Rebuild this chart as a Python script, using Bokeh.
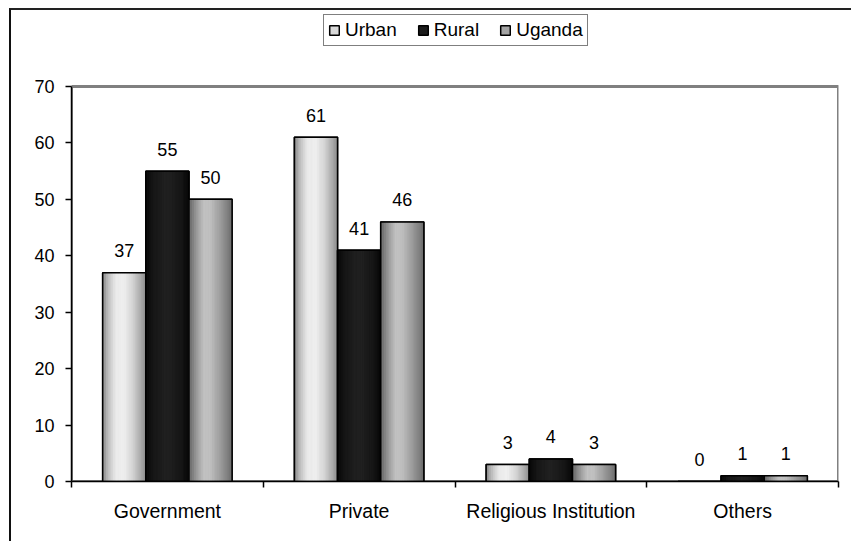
from bokeh.plotting import figure
from bokeh.models import (Range1d, FixedTicker, CustomJSTickFormatter, ColumnDataSource,
                          Legend, LegendItem)
from bokeh.transform import dodge
from bokeh.core.properties import value
from bokeh.embed import file_html
from bokeh.resources import INLINE

# ---- data ----
categories = ["Government", "Private", "Religious Institution", "Others"]
series_names = ["Urban", "Rural", "Uganda"]
urban = [37, 61, 3, 0]
rural = [55, 41, 4, 1]
uganda = [50, 46, 3, 1]
y_ticks = [0, 10, 20, 30, 40, 50, 60, 70]

# ---- style / layout ----
FONT = "Liberation Sans"
W, H = 850, 540
FRAME_TOP, AXIS_TOP, AXIS_BOTTOM = 10, 86, 481   # pixel rows: frame top, value 70, value 0
Y_MAX = y_ticks[-1] * (AXIS_BOTTOM - FRAME_TOP) / (AXIS_BOTTOM - AXIS_TOP)
BW = 0.225          # bar width (fraction of category)
NSTRIP = 24
offsets = {"Urban": -BW, "Rural": 0.0, "Uganda": BW}
# horizontal gradient profiles (position, grey level)
profiles = {
    "Urban": [(0.0, 0x80), (0.12, 0xb8), (0.3, 0xea), (0.5, 0xf0), (0.7, 0xd4), (0.88, 0xac), (1.0, 0x8c)],
    "Rural": [(0.0, 0x08), (0.2, 0x18), (0.5, 0x22), (0.8, 0x18), (1.0, 0x08)],
    "Uganda": [(0.0, 0x62), (0.15, 0x90), (0.35, 0xc2), (0.5, 0xc0), (0.75, 0x9a), (0.9, 0x80), (1.0, 0x6c)],
}
swatch = {"Urban": "#d8d8d8", "Rural": "#1c1c1c", "Uganda": "#a4a4a4"}


def grey_at(prof, t):
    for (t0, g0), (t1, g1) in zip(prof[:-1], prof[1:]):
        if t0 <= t <= t1:
            g = int(round(g0 + (g1 - g0) * (t - t0) / (t1 - t0)))
            return "#%02x%02x%02x" % (g, g, g)
    g = prof[-1][1]
    return "#%02x%02x%02x" % (g, g, g)


src = ColumnDataSource(dict(
    cat=categories,
    pos=[i + 0.5 for i in range(len(categories))],
    Urban=urban, Rural=rural, Uganda=uganda,
    lab_Urban=[str(v) for v in urban],
    lab_Rural=[str(v) for v in rural],
    lab_Uganda=[str(v) for v in uganda],
))

p = figure(width=W, height=H,
           x_range=Range1d(0, len(categories)),
           y_range=Range1d(0, Y_MAX),
           output_backend="svg", toolbar_location=None,
           min_border_left=71, min_border_right=12,
           min_border_top=FRAME_TOP, min_border_bottom=H - AXIS_BOTTOM)

p.outline_line_color = None
p.background_fill_color = "white"
p.border_fill_color = "white"
p.grid.visible = False

# plot-area border (grey, Excel style)
p.quad(left=0, right=len(categories), bottom=0, top=y_ticks[-1],
       fill_color=None, line_color="#808080", line_width=3)

# y axis
ya = p.yaxis[0]
ya.ticker = FixedTicker(ticks=y_ticks)
ya.bounds = (y_ticks[0], y_ticks[-1])
ya.major_label_text_font = FONT
ya.major_label_text_font_size = "18px"
ya.major_label_text_color = "black"
ya.axis_line_color = "black"
ya.axis_line_width = 1.5
ya.major_tick_line_color = "black"
ya.major_tick_line_width = 1.5
ya.major_tick_out = 6
ya.major_tick_in = 0
ya.minor_tick_line_color = None
ya.major_label_standoff = 11

# x axis (ticks at category boundaries, labels at centres)
xa = p.xaxis[0]
xa.ticker = FixedTicker(ticks=[i + 0.5 for i in range(len(categories))],
                        minor_ticks=list(range(len(categories) + 1)))
xa.formatter = CustomJSTickFormatter(args=dict(names=categories),
                                     code="return names[Math.floor(tick)] || ''")
xa.major_tick_out = 0
xa.major_tick_in = 0
xa.minor_tick_out = 6
xa.minor_tick_in = 0
xa.minor_tick_line_color = "black"
xa.minor_tick_line_width = 1.5
xa.axis_line_color = "black"
xa.axis_line_width = 1.5
xa.major_label_text_font = FONT
xa.major_label_text_font_size = "19.5px"
xa.major_label_text_color = "black"
xa.major_label_standoff = 12

legend_items = []
sw = BW / NSTRIP
for name in series_names:
    off = offsets[name]
    base = p.vbar(x=dodge("pos", off), top=name, bottom=0, width=BW,
                  fill_color=swatch[name], line_color="black", line_width=1.5, source=src)
    legend_items.append(LegendItem(label=name, renderers=[base]))
    for j in range(NSTRIP):
        t = (j + 0.5) / NSTRIP
        c = grey_at(profiles[name], t)
        p.vbar(x=dodge("pos", off - BW / 2 + (j + 0.5) * sw), top=name,
               bottom=0, width=sw, fill_color=c, line_color=c, line_width=0.6, source=src)
    p.vbar(x=dodge("pos", off), top=name, bottom=0, width=BW,
           fill_color=None, line_color="black", line_width=1.5, source=src)
    p.text(x=dodge("pos", off), y=name, text="lab_" + name, source=src,
           text_align="center", text_baseline="alphabetic", y_offset=-22,
           text_font=value(FONT), text_font_size="18px", text_color="black")

legend = Legend(items=legend_items, orientation="horizontal", location=(252, 435),
                label_text_font=FONT, label_text_font_size="19px", label_text_color="black",
                glyph_width=12, glyph_height=12, label_standoff=5, spacing=20,
                padding=4, margin=0, border_line_color="black", border_line_width=1,
                background_fill_color="white", background_fill_alpha=1)
p.add_layout(legend, "center")

html = file_html(p, INLINE)
# outer chart border: only its top and left edges fall inside the window
border_css = ("<style>body::before{content:'';position:absolute;left:9px;top:8px;"
              "width:842px;height:533px;box-sizing:border-box;"
              "border-left:2px solid #111111;border-top:2px solid #222222;"
              "pointer-events:none;z-index:10;}</style>")
html = html.replace("</head>", border_css + "</head>", 1)
open("out.html", "w").write(html)
